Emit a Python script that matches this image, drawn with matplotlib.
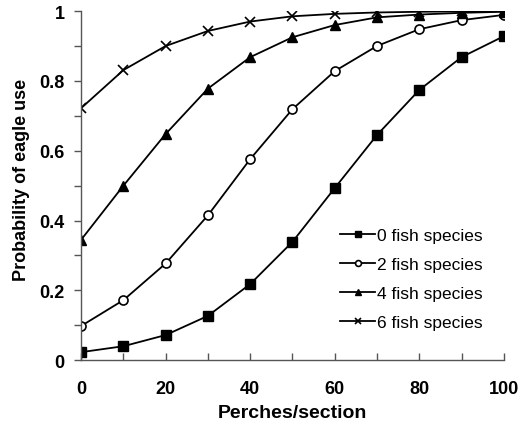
import numpy as np
import matplotlib
matplotlib.use("Agg")
from matplotlib import pyplot as plt
from matplotlib.ticker import MultipleLocator

plt.rcParams['font.family'] = ['Liberation Sans', 'DejaVu Sans']

perches = [0, 10, 20, 30, 40, 50, 60, 70, 80, 90, 100]
fish0 = [0.023, 0.040, 0.072, 0.127, 0.218, 0.339, 0.493, 0.645, 0.774, 0.868, 0.928]
fish2 = [0.098, 0.172, 0.277, 0.415, 0.576, 0.719, 0.828, 0.900, 0.948, 0.974, 0.989]
fish4 = [0.345, 0.500, 0.648, 0.778, 0.868, 0.925, 0.960, 0.982, 0.990, 0.995, 0.998]
fish6 = [0.722, 0.831, 0.900, 0.943, 0.970, 0.985, 0.992, 0.996, 0.998, 0.999, 0.9995]
labels = ['0 fish species', '2 fish species', '4 fish species', '6 fish species']

fig = plt.figure(figsize=(5.27, 4.31), dpi=100)
ax = fig.add_axes([0.154, 0.162, 0.802, 0.81])

ax.plot(perches, fish0, color='black', lw=1.3, marker='s', ms=6.5, mfc='black', label=labels[0])
ax.plot(perches, fish2, color='black', lw=1.3, marker='o', ms=6.5, mfc='white', mew=1.2, label=labels[1])
ax.plot(perches, fish4, color='black', lw=1.3, marker='^', ms=6.5, mfc='black', label=labels[2])
ax.plot(perches, fish6, color='black', lw=1.3, marker='x', ms=7, mew=1.2, label=labels[3])

ax.set_xlim(0, 100)
ax.set_ylim(0, 1)
ax.xaxis.set_major_locator(MultipleLocator(20))
ax.xaxis.set_minor_locator(MultipleLocator(10))
ax.yaxis.set_minor_locator(MultipleLocator(0.1))
ax.set_yticks([0, 0.2, 0.4, 0.6, 0.8, 1.0])
ax.set_yticklabels(['0', '0.2', '0.4', '0.6', '0.8', '1'])

for s in ['top', 'right']:
    ax.spines[s].set_visible(False)
for s in ['left', 'bottom']:
    ax.spines[s].set_color('#555555')
    ax.spines[s].set_linewidth(1.0)

ax.tick_params(axis='y', which='both', direction='out', color='#555555', width=1)
ax.tick_params(axis='y', which='major', length=5, pad=7)
ax.tick_params(axis='y', which='minor', length=5)
ax.tick_params(axis='x', which='both', direction='in', color='#555555', width=1, length=5)
ax.tick_params(axis='x', which='major', pad=14)
for t in ax.get_xticklabels() + ax.get_yticklabels():
    t.set_fontsize(13)
    t.set_fontweight('bold')

ax.set_xlabel('Perches/section', fontsize=14, fontweight='bold', labelpad=5)
ax.set_ylabel('Probability of eagle use', fontsize=13, fontweight='bold')
ax.yaxis.set_label_coords(-0.122, 0.52)

ax.legend(loc='lower right', bbox_to_anchor=(0.951, 0.087), frameon=False, fontsize=12.5,
          handlelength=2.0, handletextpad=0.15, labelspacing=0.8, markerscale=0.65,
          borderpad=0, borderaxespad=0)

plt.savefig('out.png', dpi=100)
